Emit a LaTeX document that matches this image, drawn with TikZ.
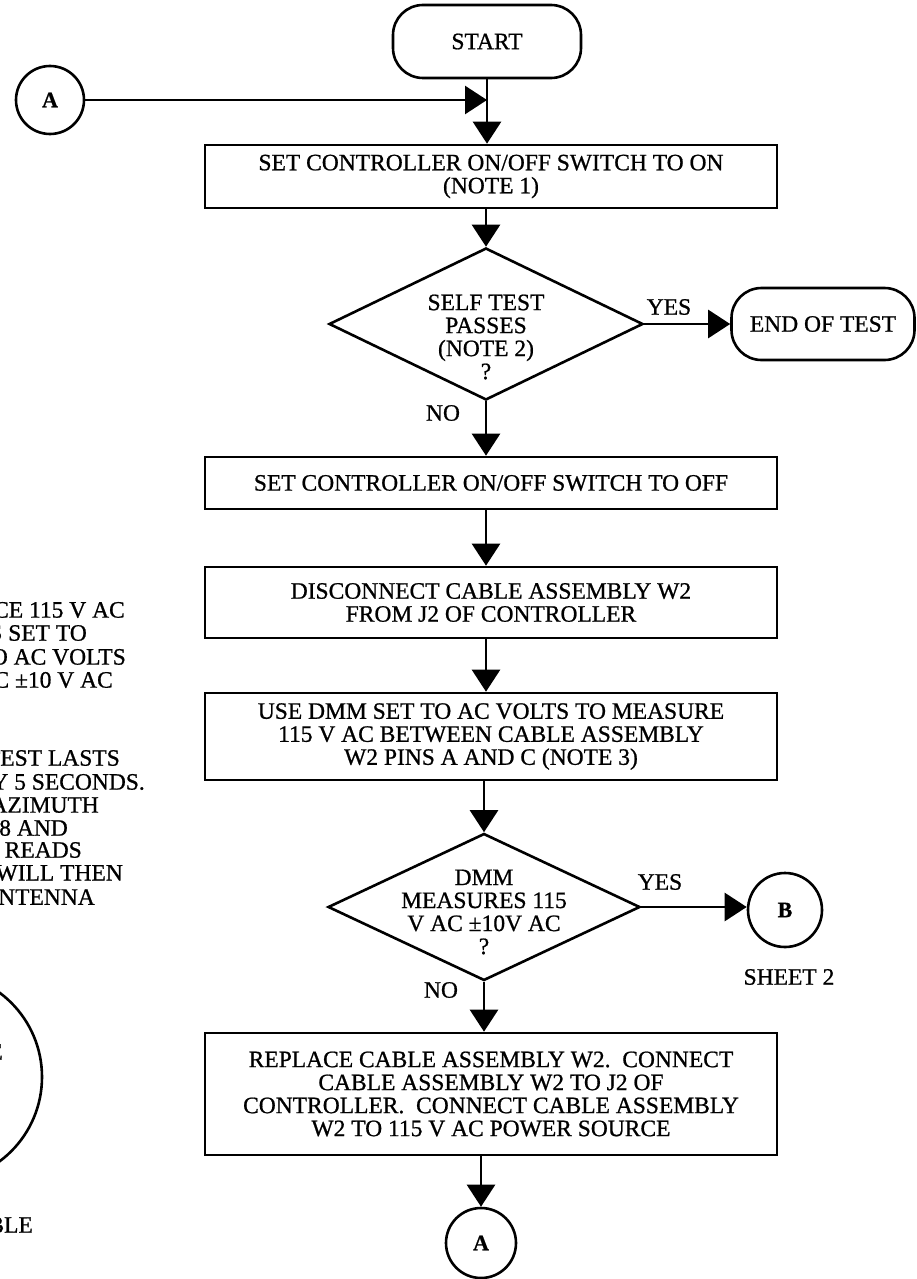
\documentclass[tikz,border=0pt]{standalone}
\usepackage{fontspec}
\setmainfont[FakeBold=0.8]{Liberation Serif}
\usetikzlibrary{arrows.meta,shapes.geometric}
\begin{document}
\begin{tikzpicture}[x=1pt,y=-1pt,
  every node/.style={font=\fontsize{23.5}{23}\selectfont, inner sep=0pt},
  arr/.style={line width=2.6pt,-{Triangle[length=22pt,width=28pt]}},
  procbox/.style={draw,line width=2.6pt,minimum width=572pt,align=center},
  term/.style={draw,line width=2.6pt,rounded corners=30pt,align=center},
  conn/.style={draw,circle,line width=2.6pt,minimum size=70pt,font=\fontsize{22}{22}\selectfont\bfseries},
  dec/.style={draw,diamond,line width=2.6pt,minimum width=314pt,minimum height=152pt},
  lbl/.style={align=center},
  frag/.style={anchor=east}
]
\useasboundingbox (0,0) rectangle (916,1279);
\fill[white] (0,0) rectangle (916,1279);
\clip (0,0) rectangle (916,1279);

% main column
\node[term, minimum width=188pt, minimum height=73pt] (start) at (487,41.5) {START};
\node[conn, minimum size=68pt] (a1) at (50,100) {A};
\node[procbox, minimum height=63pt] (b1) at (491,176.5) {SET CONTROLLER ON/OFF SWITCH TO ON\\(NOTE 1)};
\node[dec] (d1) at (486,324) {};
\node[lbl] (d1t) at (486,337) {SELF TEST\\PASSES\\(NOTE 2)\\?};
\node[term, minimum width=183pt, minimum height=72pt] (end) at (823,324) {END OF TEST};
\node (yes1) at (669,307) {YES};
\node (no1) at (443,413) {NO};
\node[procbox, minimum height=52pt] (b2) at (491,483) {SET CONTROLLER ON/OFF SWITCH TO OFF};
\node[procbox, minimum height=71pt] (b3) at (491,602.5) {DISCONNECT CABLE ASSEMBLY W2\\FROM J2 OF CONTROLLER};
\node[procbox, minimum height=87pt] (b4) at (491,736.5) {USE DMM SET TO AC VOLTS TO MEASURE\\115 V AC BETWEEN CABLE ASSEMBLY\\W2 PINS A AND C (NOTE 3)};
\node[dec, minimum width=312pt, minimum height=147pt] (d2) at (484,907) {};
\node[lbl] (d2t) at (484,912) {DMM\\MEASURES 115\\V AC ±10V AC\\?};
\node (yes2) at (660,882) {YES};
\node[conn, minimum size=74pt] (bb) at (785,910) {B};
\node (sheet) at (789,977) {SHEET 2};
\node (no2) at (441,990) {NO};
\node[procbox, minimum height=122pt] (b5) at (491,1094) {REPLACE CABLE ASSEMBLY W2.\ \ CONNECT\\CABLE ASSEMBLY W2 TO J2 OF\\CONTROLLER.\ \ CONNECT CABLE ASSEMBLY\\W2 TO 115 V AC POWER SOURCE};
\node[conn] (a2) at (481,1243) {A};

% connectors
\draw[arr] (start.south) -- (start.south |- b1.north);
\draw[arr] (a1.east) -- (a1.east -| start.south);
\draw[arr] (d1.north |- b1.south) -- (d1.north);
\draw[arr] (d1.east) -- (end.west);
\draw[arr] (d1.south) -- (d1.south |- b2.north);
\draw[arr] (d1.south |- b2.south) -- (d1.south |- b3.north);
\draw[arr] (d1.south |- b3.south) -- (d1.south |- b4.north);
\draw[arr] (d2.north |- b4.south) -- (d2.north);
\draw[arr] (d2.east) -- (d2.east -| bb.west);
\draw[arr] (d2.south) -- (d2.south |- b5.north);
\draw[arr] (a2.north |- b5.south) -- (a2.north);

% cropped fragments at the left edge of the sheet
\node[frag] (f1) at (125,610) {CE 115 V AC};
\node[frag] (f2) at (87,633) {S SET TO};
\node[frag] (f3) at (126,657) {O AC VOLTS};
\node[frag] (f4) at (113,680) {C ±10 V AC};
\node[frag] (f5) at (120,758) {TEST LASTS};
\node[frag] (f6) at (145,782) {Y 5 SECONDS.};
\node[frag] (f7) at (99,805) {AZIMUTH};
\node[frag] (f8) at (68,828) {.8 AND};
\node[frag] (f9) at (82,850) {READS};
\node[frag] (f10) at (123,873) {WILL THEN};
\node[frag] (f11) at (95,897) {NTENNA};
\node[draw,circle,line width=2.6pt,minimum size=210pt] (cc) at (-63,1077) {};
\node[frag] (f12) at (3,1052) {E};
\node[frag] (f13) at (33,1225) {BLE};
\end{tikzpicture}
\end{document}
